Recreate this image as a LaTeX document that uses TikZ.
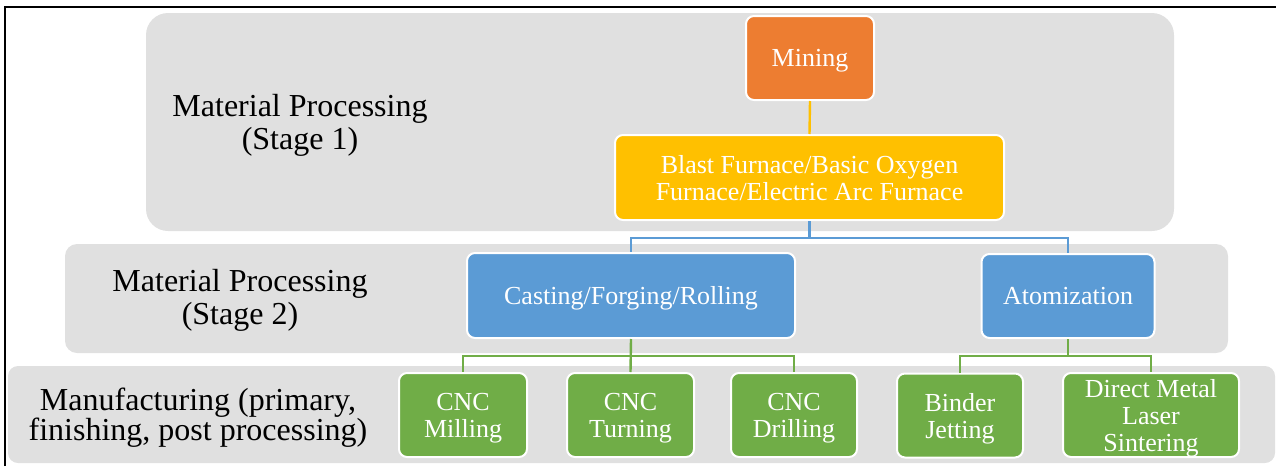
\documentclass[tikz,border=0pt]{standalone}
\usepackage{fontspec}
\setmainfont{Liberation Serif}
\definecolor{bandgray}{RGB}{224,224,224}
\definecolor{orangebox}{RGB}{237,125,49}
\definecolor{goldbox}{RGB}{255,192,0}
\definecolor{bluebox}{RGB}{91,155,213}
\definecolor{greenbox}{RGB}{112,173,71}

\begin{document}
\begin{tikzpicture}[x=1pt,y=-1pt,
  band/.style={fill=bandgray, draw=none, inner sep=0pt},
  box/.style={draw=white, line width=2pt, rounded corners=8pt, text=white,
    align=center, inner sep=0pt, text depth=0pt, font=\fontsize{26}{27}\selectfont},
  stagelabel/.style={align=center, inner sep=0pt, font=\fontsize{32}{33}\selectfont},
  link/.style={line width=2.4pt}]

\useasboundingbox (0,0) rectangle (1276,466);

% stage bands
\node[band, rounded corners=22pt, minimum width=1028pt, minimum height=218pt] (band1) at (660,122) {};
\node[band, rounded corners=12pt, minimum width=1163pt, minimum height=109pt] (band2) at (646.5,298.5) {};
\node[band, rounded corners=10pt, minimum width=1267pt, minimum height=97pt] (band3) at (641.5,414.5) {};

% frame
\draw[line width=1.6pt] (5,466) |- (1276,7);

% stage labels
\node[stagelabel] (lab1) at (300,125) {Material Processing\\(Stage 1)};
\node[stagelabel] (lab2) at (240,300.5) {Material Processing\\(Stage 2)};
\node[stagelabel, font=\fontsize{32}{29}\selectfont] (lab3) at (198,417.5) {Manufacturing (primary,\\finishing, post processing)};

% process boxes
\node[box, fill=orangebox, minimum width=128pt, minimum height=84pt] (mining) at (810,58) {Mining};
\node[box, fill=goldbox, minimum width=389pt, minimum height=85pt] (blast) at (809.5,177.5) {Blast Furnace/Basic Oxygen\\Furnace/Electric Arc Furnace};
\node[box, fill=bluebox, minimum width=328pt, minimum height=85pt] (cast) at (631,295.5) {Casting/Forging/Rolling};
\node[box, fill=bluebox, minimum width=173pt, minimum height=84pt] (atom) at (1068,296) {Atomization};
\node[box, fill=greenbox, minimum width=128pt, minimum height=84pt] (mill) at (463,415) {CNC\\Milling};
\node[box, fill=greenbox, minimum width=127pt, minimum height=84pt] (turn) at (630.5,415) {CNC\\Turning};
\node[box, fill=greenbox, minimum width=126pt, minimum height=84pt] (drill) at (794,415) {CNC\\Drilling};
\node[box, fill=greenbox, minimum width=126pt, minimum height=84pt] (binder) at (960,415.5) {Binder\\Jetting};
\node[box, fill=greenbox, minimum width=176pt, minimum height=84pt] (dmls) at (1151,415) {Direct Metal\\Laser\\Sintering};

% connectors
\draw[link, goldbox] (mining.south) -- (blast.north);
\draw[link, bluebox] (blast.south) -- ++(0,17) -| (cast.north);
\draw[link, bluebox] (blast.south) -- ++(0,17) -| (atom.north);
\draw[link, greenbox] (cast.south) -- ++(0,17) -| (mill.north);
\draw[link, greenbox] (cast.south) -- (turn.north);
\draw[link, greenbox] (cast.south) -- ++(0,17) -| (drill.north);
\draw[link, greenbox] (atom.south) -- ++(0,17) -| (binder.north);
\draw[link, greenbox] (atom.south) -- ++(0,17) -| (dmls.north);
\end{tikzpicture}
\end{document}
